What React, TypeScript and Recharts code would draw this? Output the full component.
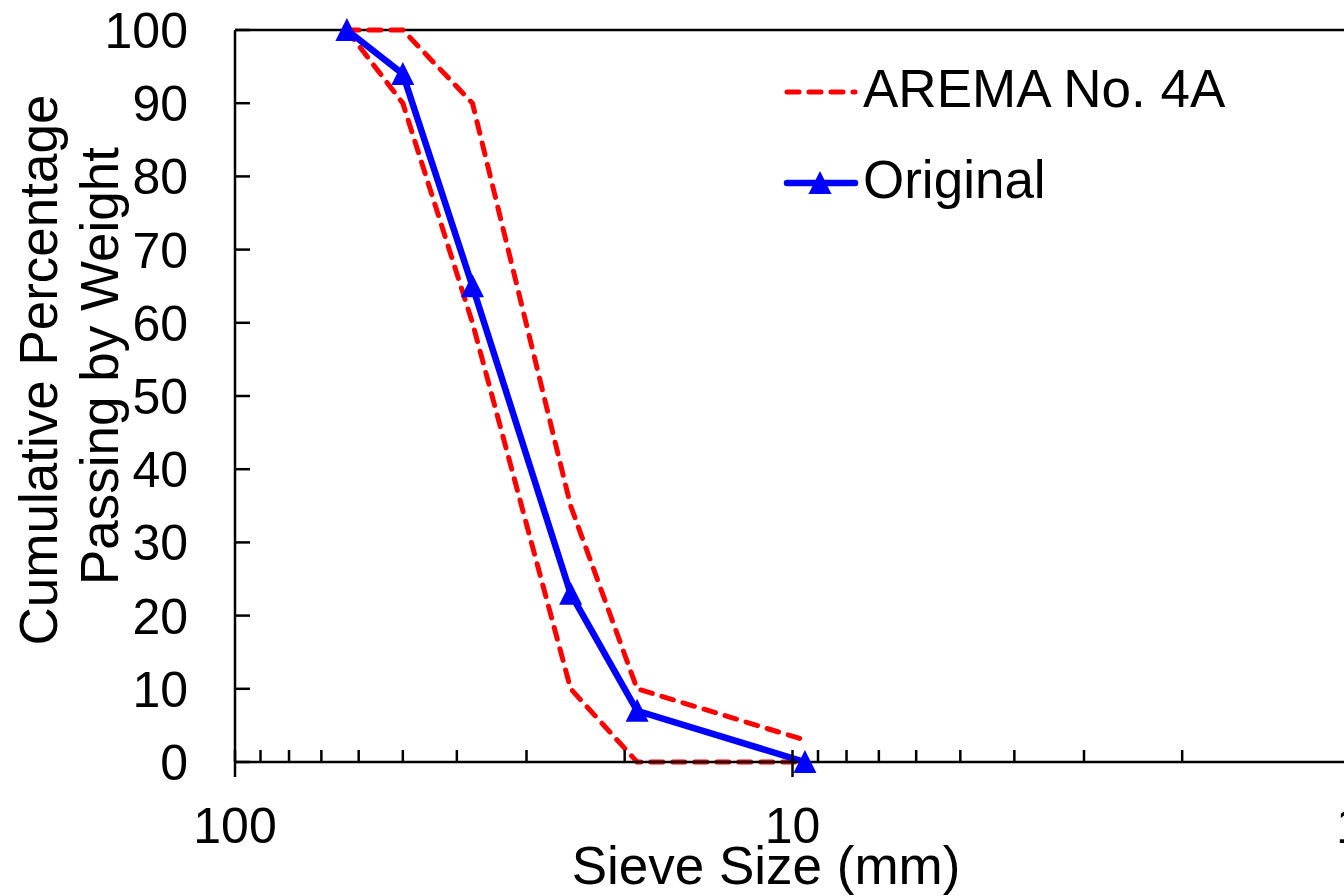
import React from 'react';
import { LineChart, Line, XAxis, YAxis, ReferenceLine } from 'recharts';

// Sieve sizes (mm)
const sieveSizes = [63, 50, 37.5, 25, 19, 9.5];
// Cumulative percentage passing by weight
const aremaUpper = [100, 100, 90, 35, 10, 3];
const aremaLower = [100, 90, 60, 10, 0, 0];
const original = [100, 94, 65, 23, 7, 0];

const xMajorTicks = [100, 10, 1];
const xMinorTicks = [90, 80, 70, 60, 50, 40, 30, 20, 9, 8, 7, 6, 5, 4, 3, 2];
const yTicks = [0, 10, 20, 30, 40, 50, 60, 70, 80, 90, 100];

const seriesNames = ['AREMA No. 4A', 'Original'];
const axisTitles = { x: 'Sieve Size (mm)', y1: 'Cumulative Percentage', y2: 'Passing by Weight' };

const toRows = (vals: number[]) => sieveSizes.map((s, i) => ({ size: s, pct: vals[i] }));
const upperRows = toRows(aremaUpper);
const lowerRows = toRows(aremaLower);
const originalRows = toRows(original);

const FONT = '"Liberation Sans", Arial, sans-serif';
const RED = '#ff0000';
const BLUE = '#0000ff';

const XTick = (props: any) => {
  const { x, y, payload } = props;
  const v = payload.value;
  const major = xMajorTicks.includes(v);
  return (
    <g>
      <line x1={x} x2={x} y1={y} y2={y - 12} stroke="#000" strokeWidth={2.5} />
      {major && <line x1={x} x2={x} y1={y} y2={y + 15} stroke="#000" strokeWidth={2.5} />}
      {major && (
        <text x={x} y={y + 81} textAnchor="middle" fontSize={50} fontFamily={FONT} fill="#000">
          {v}
        </text>
      )}
    </g>
  );
};

const YTick = (props: any) => {
  const { x, y, payload } = props;
  return (
    <g>
      <line x1={x} x2={x + 15} y1={y} y2={y} stroke="#000" strokeWidth={2.5} />
      <text x={x - 47} y={y + 18} textAnchor="end" fontSize={50} fontFamily={FONT} fill="#000">
        {payload.value}
      </text>
    </g>
  );
};

const Triangle = (props: any) => {
  const { cx, cy, index } = props;
  if (cx == null || cy == null) return <g key={`t${index}`} />;
  return (
    <path
      key={`t${index}`}
      d={`M${cx},${cy - 12} L${cx + 11.5},${cy + 11} L${cx - 11.5},${cy + 11} Z`}
      fill={BLUE}
    />
  );
};

export default function App() {
  return (
    <div style={{ position: 'fixed', left: 0, top: 0, width: 1344, height: 896, overflow: 'hidden', background: '#fff' }}>
      <LineChart width={1400} height={896} margin={{ top: 30, right: 50, bottom: 0, left: 0 }}>
        <XAxis
          dataKey="size"
          type="number"
          scale="log"
          domain={[1, 100]}
          reversed
          allowDataOverflow
          ticks={[...xMajorTicks, ...xMinorTicks]}
          interval={0}
          tick={<XTick />}
          tickLine={false}
          tickSize={0}
          tickMargin={0}
          height={134}
          axisLine={{ stroke: '#000', strokeWidth: 2.5 }}
        />
        <YAxis
          type="number"
          domain={[0, 100]}
          ticks={yTicks}
          interval={0}
          tick={<YTick />}
          tickLine={false}
          tickSize={0}
          tickMargin={0}
          width={235}
          axisLine={{ stroke: '#000', strokeWidth: 2.5 }}
        />
        <ReferenceLine y={100} stroke="#000" strokeWidth={2.5} />
        <Line
          data={upperRows}
          dataKey="pct"
          stroke={RED}
          strokeWidth={5}
          strokeDasharray="12 10"
          strokeLinecap="round"
          dot={false}
          isAnimationActive={false}
          name={seriesNames[0]}
        />
        <Line
          data={lowerRows}
          dataKey="pct"
          stroke={RED}
          strokeWidth={5}
          strokeDasharray="12 10"
          strokeLinecap="round"
          dot={false}
          isAnimationActive={false}
          name={seriesNames[0] + ' lower'}
        />
        <Line
          data={originalRows}
          dataKey="pct"
          stroke={BLUE}
          strokeWidth={6.5}
          dot={Triangle}
          activeDot={false}
          isAnimationActive={false}
          name={seriesNames[1]}
        />
      </LineChart>
      <svg
        width={1344}
        height={896}
        style={{ position: 'absolute', left: 0, top: 0, pointerEvents: 'none' }}
        fontFamily={FONT}
      >
        <text x={57} y={370} transform="rotate(-90 57 370)" textAnchor="middle" fontSize={53} fill="#000">
          {axisTitles.y1}
        </text>
        <text x={118} y={366} transform="rotate(-90 118 366)" textAnchor="middle" fontSize={53} fill="#000">
          {axisTitles.y2}
        </text>
        <text x={766} y={884} textAnchor="middle" fontSize={53} fill="#000">
          {axisTitles.x}
        </text>
        <line x1={787} x2={855} y1={92} y2={92} stroke={RED} strokeWidth={5} strokeDasharray="12 10" strokeLinecap="round" />
        <text x={863} y={107} fontSize={53} fill="#000">
          {seriesNames[0]}
        </text>
        <line x1={787} x2={855} y1={183} y2={183} stroke={BLUE} strokeWidth={6.5} strokeLinecap="round" />
        <path d="M820,171 L831.5,194 L808.5,194 Z" fill={BLUE} />
        <text x={863} y={198} fontSize={53} fill="#000">
          {seriesNames[1]}
        </text>
      </svg>
    </div>
  );
}
